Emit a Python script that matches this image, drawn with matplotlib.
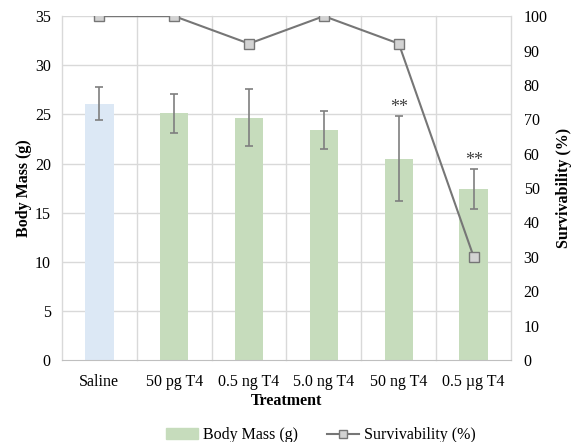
import matplotlib.pyplot as plt
from matplotlib.lines import Line2D
from matplotlib.patches import Patch
import numpy as np

plt.rcParams["font.family"] = ["Liberation Serif", "DejaVu Serif"]

# data
treatments = ["Saline", "50 pg T4", "0.5 ng T4", "5.0 ng T4", "50 ng T4", "0.5 \u00b5g T4"]
body_mass = [26.1, 25.1, 24.65, 23.4, 20.5, 17.4]
mass_err = [1.7, 2.0, 2.9, 1.9, 4.3, 2.0]
survival = [100, 100, 92, 100, 92, 30]
significant = ["", "", "", "", "**", "**"]

bar_colors = ["#dce8f5"] + ["#c6dcbc"] * 5
grid_col = "#d9d9d9"

fig = plt.figure(figsize=(5.73, 4.42), dpi=100)
ax = fig.add_axes([0.108, 0.1855, 0.784, 0.778])
ax2 = ax.twinx()

x = np.arange(len(treatments))
ax.bar(x, body_mass, width=0.38, color=bar_colors, zorder=2)
ax.errorbar(x, body_mass, yerr=mass_err, fmt="none", ecolor="#7f7f7f",
            elinewidth=1.2, capsize=3, capthick=1.2, zorder=3)
for xi, m, e, s in zip(x, body_mass, mass_err, significant):
    if s:
        ax.text(xi, m + e, s, ha="center", va="bottom", fontsize=13,
                color="#404040")

ax2.plot(x, survival, color="#767676", lw=1.5, marker="s", markersize=7,
         markerfacecolor="#d3d3d3", markeredgecolor="#767676", zorder=4)

ax.set_xlim(-0.5, len(treatments) - 0.5)
ax.set_ylim(0, 35)
ax.set_yticks(np.arange(0, 36, 5))
ax2.set_ylim(0, 100)
ax2.set_yticks(np.arange(0, 101, 10))

# excel style gridlines
for yv in np.arange(5, 36, 5):
    ax.axhline(yv, color=grid_col, lw=1, zorder=0)
for xv in np.arange(-0.5, len(treatments), 1.0):
    ax.axvline(xv, color=grid_col, lw=1, zorder=0, clip_on=False)

ax.set_xticks(x)
ax.set_xticklabels(treatments, fontsize=11.5)
ax.tick_params(axis="x", length=0, labelsize=11.5, pad=10)
ax.tick_params(axis="y", length=0, labelsize=11.5, pad=8)
ax2.tick_params(length=0, labelsize=11.5, pad=9)
for a in (ax, ax2):
    for sp in a.spines.values():
        sp.set_visible(False)
ax.spines["bottom"].set_visible(True)
ax.spines["bottom"].set_color("#bfbfbf")

ax.set_xlabel("Treatment", fontsize=11.5, fontweight="bold", labelpad=2)
ax.set_ylabel("Body Mass (g)", fontsize=11.5, fontweight="bold", labelpad=2)
ax2.set_ylabel("Survivability (%)", fontsize=11.5, fontweight="bold", labelpad=6)

handles = [Patch(color="#c6dcbc", label="Body Mass (g)"),
           Line2D([0], [0], color="#767676", lw=1.5, marker="s", markersize=6,
                  markerfacecolor="#d3d3d3", markeredgecolor="#767676",
                  label="Survivability (%)")]
fig.legend(handles=handles, loc="lower center", ncol=2, frameon=False,
           fontsize=11.5, bbox_to_anchor=(0.56, -0.035), handlelength=2.0,
           handletextpad=0.3, columnspacing=1.8)

fig.savefig("out.png", dpi=100)
